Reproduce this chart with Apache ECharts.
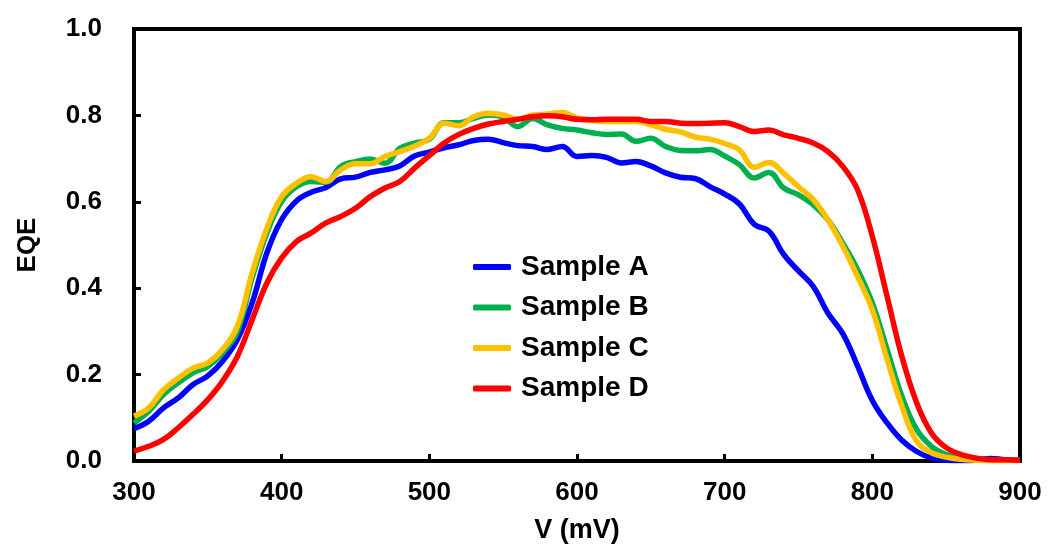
<!DOCTYPE html>
<html>
<head>
<meta charset="utf-8">
<script src="https://cdn.jsdelivr.net/npm/echarts@6/dist/echarts.min.js"></script>
<style>html,body{margin:0;padding:0;background:#fff;}#chart{width:1048px;height:545px;}</style>
</head>
<body>
<div id="chart"></div>
<script>
const voltages = [300,310,320,330,340,350,360,370,380,390,400,410,420,430,440,450,460,470,480,490,500,510,520,530,540,550,560,570,580,590,600,610,620,630,640,650,660,670,680,690,700,710,720,730,740,750,760,770,780,790,800,810,820,830,840,850,860,870,880,890,900];
const sampleA = [.075,.092,.123,.146,.177,.197,.231,.281,.366,.482,.559,.602,.622,.633,.653,.657,.668,.674,.683,.706,.715,.725,.732,.742,.745,.737,.730,.728,.721,.728,.705,.707,.703,.690,.693,.683,.667,.657,.654,.635,.618,.595,.548,.532,.478,.440,.404,.342,.295,.22,.14,.088,.048,.022,.007,.002,.001,.002,.006,.003,.002];
const sampleB = [.088,.115,.154,.181,.204,.219,.25,.300,.424,.528,.601,.635,.647,.645,.682,.693,.699,.689,.724,.736,.745,.783,.783,.793,.801,.796,.774,.793,.778,.770,.766,.760,.756,.757,.740,.747,.728,.719,.718,.721,.706,.686,.655,.668,.632,.616,.593,.558,.504,.443,.366,.258,.150,.073,.034,.015,.007,.004,.003,.002,.003];
const sampleC = [.104,.123,.165,.192,.215,.227,.258,.312,.435,.539,.612,.643,.658,.647,.674,.688,.688,.705,.716,.729,.747,.782,.776,.797,.805,.801,.791,.801,.803,.807,.794,.788,.786,.786,.786,.778,.768,.762,.750,.745,.735,.720,.680,.691,.666,.635,.605,.558,.497,.427,.350,.235,.127,.046,.019,.009,.004,.002,.001,.001,.001];
const sampleD = [.023,.034,.050,.077,.108,.142,.185,.242,.327,.412,.470,.508,.528,.551,.566,.585,.612,.632,.647,.678,.707,.736,.756,.770,.780,.786,.791,.797,.799,.797,.791,.790,.791,.791,.791,.786,.786,.782,.781,.782,.783,.774,.763,.766,.755,.747,.736,.716,.682,.628,.520,.381,.242,.135,.065,.031,.015,.007,.003,.003,.002];
const seriesNames = ['Sample A','Sample B','Sample C','Sample D'];
const seriesColors = ['#0000FF','#00B050','#FFC000','#FF0000'];
const xTitle = 'V (mV)';
const yTitle = 'EQE';

const allData = [sampleA, sampleB, sampleC, sampleD];
const font = 'Liberation Sans, Arial, sans-serif';
const chart = echarts.init(document.getElementById('chart'));
chart.setOption({
  animation: false,
  backgroundColor: '#fff',
  grid: {left: 134, right: 28, top: 29, bottom: 84, show: true, borderColor: '#000', borderWidth: 4, backgroundColor: 'transparent', outerBoundsMode: 'none', containLabel: false},
  legend: {
    orient: 'vertical', left: 473, top: 253, padding: 0, itemWidth: 38, itemHeight: 6, itemGap: 12.5,
    icon: 'roundRect',
    textStyle: {fontFamily: font, fontWeight: 'bold', fontSize: 28, color: '#000', padding: [0,0,0,5]},
    data: seriesNames
  },
  xAxis: {
    type: 'value', min: 300, max: 900, interval: 100,
    name: xTitle, nameLocation: 'middle', nameGap: 56,
    nameTextStyle: {fontFamily: font, fontWeight: 'bold', fontSize: 27, color: '#000'},
    axisLine: {show: true, lineStyle: {color: '#000', width: 4}},
    axisTick: {show: true, inside: true, length: 7, lineStyle: {color: '#000', width: 3}},
    axisLabel: {fontFamily: font, fontWeight: 'bold', fontSize: 26, color: '#000', margin: 19},
    splitLine: {show: false}
  },
  yAxis: {
    type: 'value', min: 0, max: 1, interval: 0.2,
    name: yTitle, nameLocation: 'middle', nameGap: 93, nameRotate: 90,
    nameTextStyle: {fontFamily: font, fontWeight: 'bold', fontSize: 26, color: '#000'},
    axisLine: {show: true, lineStyle: {color: '#000', width: 4}},
    axisTick: {show: true, inside: true, length: 7, lineStyle: {color: '#000', width: 3}},
    axisLabel: {fontFamily: font, fontWeight: 'bold', fontSize: 26, color: '#000', margin: 32, formatter: v => v.toFixed(1)},
    splitLine: {show: false}
  },
  series: allData.map((arr, i) => ({
    name: seriesNames[i], type: 'line', smooth: 0.4, symbol: 'none',
    color: seriesColors[i],
    lineStyle: {width: 5.5, color: seriesColors[i]},
    data: voltages.map((v, j) => [v, arr[j]])
  }))
});
</script>
</body>
</html>
